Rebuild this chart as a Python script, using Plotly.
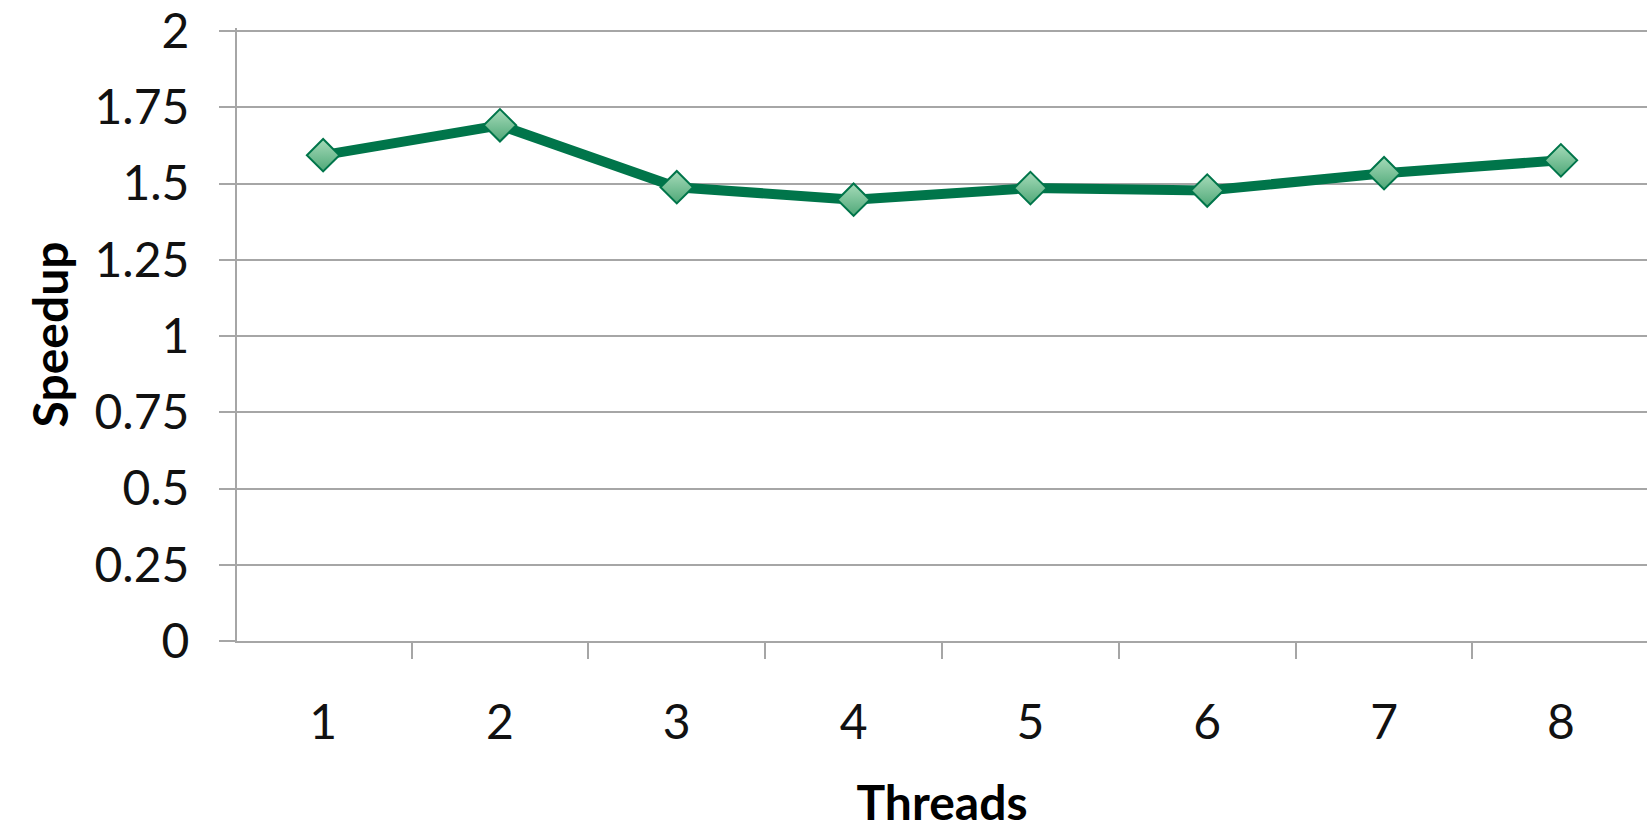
import plotly.graph_objects as go

threads = ["1", "2", "3", "4", "5", "6", "7", "8"]
speedup = [1.593, 1.691, 1.488, 1.447, 1.485, 1.477, 1.534, 1.576]
y_ticks = [0, 0.25, 0.5, 0.75, 1, 1.25, 1.5, 1.75, 2]
y_tick_text = ["0", "0.25", "0.5", "0.75", "1", "1.25", "1.5", "1.75", "2"]

GREEN = "#00754a"
GRID = "#a6a6a6"
TICK_FONT = dict(family="Lato", size=48, color="#111111")
TITLE_FONT = dict(family="Lato", size=48, color="#000000", weight="bold")

fig = go.Figure()
fig.add_trace(go.Scatter(
    x=threads, y=speedup, mode="lines+markers",
    line=dict(color=GREEN, width=10),
    marker=dict(symbol="diamond", size=25, color="#a6dbb9",
                gradient=dict(type="vertical", color="#4fa878"),
                line=dict(color=GREEN, width=2)),
    showlegend=False,
))

fig.update_layout(
    width=1648, height=830,
    margin=dict(l=237, r=1, t=22, b=189),
    paper_bgcolor="white", plot_bgcolor="white",
    xaxis=dict(
        type="category", tickson="boundaries", ticks="outside", ticklen=16,
        tickwidth=2, tickcolor=GRID, showline=True, linecolor=GRID, linewidth=2,
        showgrid=False, tickfont=TICK_FONT, ticklabelstandoff=38,
        title=dict(text="Threads", font=TITLE_FONT, standoff=40),
    ),
    yaxis=dict(
        range=[0, 2.01], tickvals=y_ticks, ticktext=y_tick_text,
        ticks="outside", ticklen=16, tickwidth=2, tickcolor=GRID,
        showline=True, linecolor=GRID, linewidth=2,
        showgrid=True, gridcolor=GRID, gridwidth=2, zeroline=False,
        tickfont=TICK_FONT, ticklabelstandoff=20, ticklabeloverflow="allow",
        title=dict(text="Speedup", font=TITLE_FONT, standoff=11),
    ),
)

fig.write_html("out.html")
